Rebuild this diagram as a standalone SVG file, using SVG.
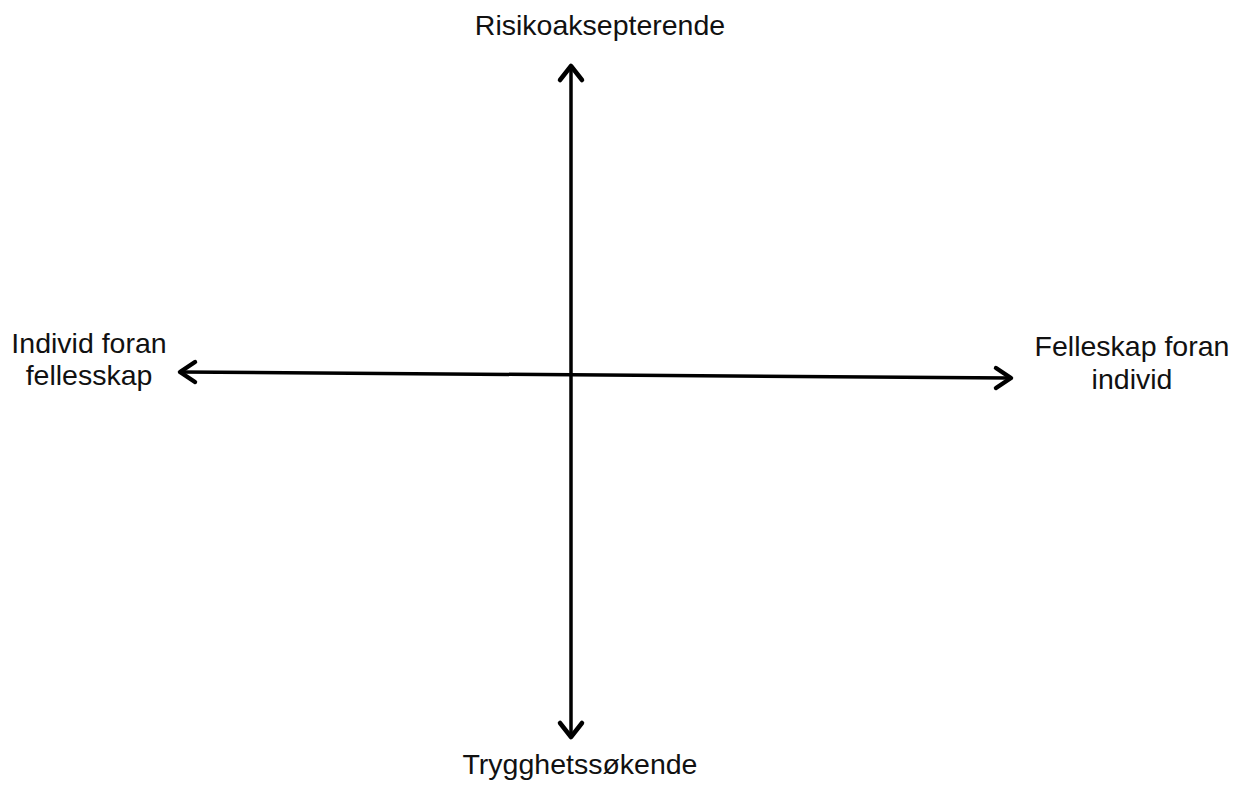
<svg xmlns="http://www.w3.org/2000/svg" width="1251" height="785" viewBox="0 0 1251 785">
<style>
.ax{stroke:#000;stroke-width:3.5;fill:none;stroke-linecap:round;stroke-linejoin:round}
.hd{stroke:#000;stroke-width:4.5;fill:none;stroke-linecap:round;stroke-linejoin:round}
.t{font-family:"Liberation Sans",Arial,sans-serif;font-size:28.5px;fill:#111;text-anchor:middle}
</style>
<rect width="1251" height="785" fill="#fff"/>
<g id="connectors">
<line class="ax" x1="571" y1="67" x2="571" y2="736"/>
<polyline class="hd" points="560,80 571,66 582,80"/>
<polyline class="hd" points="560,723 571,737 582,723"/>
<line class="ax" x1="181" y1="372" x2="1010" y2="378"/>
<polyline class="hd" points="195,362 180,372 195,382"/>
<polyline class="hd" points="996,368 1011,378 996,388"/>
</g>
<g id="top"><text class="t" x="600" y="35">Risikoaksepterende</text></g>
<g id="bottom"><text class="t" x="580" y="774">Trygghetssøkende</text></g>
<g id="left"><text class="t" x="89" y="353">Individ foran</text><text class="t" x="89" y="385">fellesskap</text></g>
<g id="right"><text class="t" x="1132" y="356">Felleskap foran</text><text class="t" x="1132" y="389">individ</text></g>
</svg>
